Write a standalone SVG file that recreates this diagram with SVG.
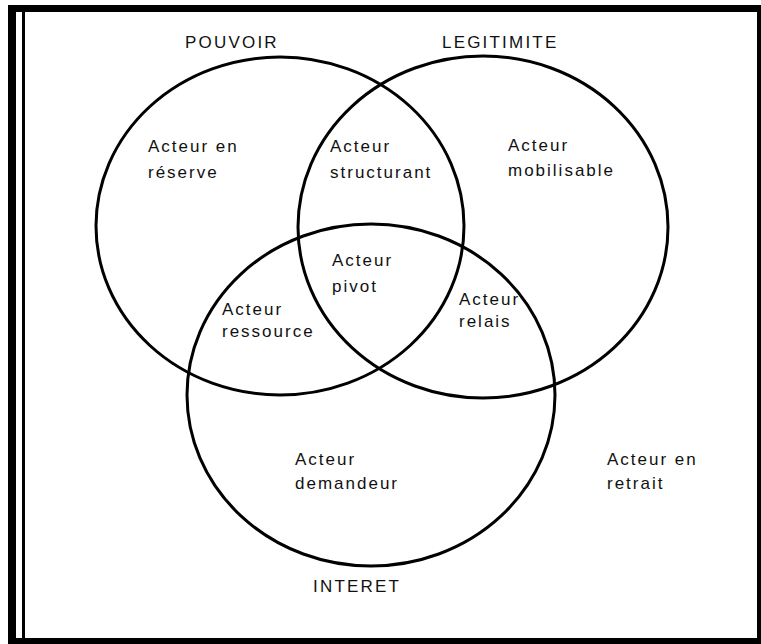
<svg xmlns="http://www.w3.org/2000/svg" width="761" height="644" viewBox="0 0 761 644">
<style>
.frame{fill:#000}
.set{fill:none;stroke:#000;stroke-width:3}
.t{font-family:"Liberation Sans",Arial,sans-serif;font-size:17px;letter-spacing:2px;fill:#111}
.h{font-family:"Liberation Sans",Arial,sans-serif;font-size:17px;letter-spacing:2.2px;fill:#111}
</style>
<rect width="761" height="644" fill="#fff"/>
<g id="frame">
<rect class="frame" x="8" y="5" width="753" height="7"/>
<rect class="frame" x="8" y="5" width="8" height="639"/>
<rect class="frame" x="22" y="12" width="3" height="628"/>
<rect class="frame" x="16" y="638" width="745" height="6"/>
<rect class="frame" x="757" y="5" width="4" height="639"/>
</g>
<g id="pouvoir">
<ellipse class="set" cx="280" cy="226" rx="184" ry="169"/>
<text class="h" x="185" y="48">POUVOIR</text>
</g>
<g id="legitimite">
<ellipse class="set" cx="483" cy="227" rx="185" ry="171"/>
<text class="h" x="442" y="48">LEGITIMITE</text>
</g>
<g id="interet">
<ellipse class="set" cx="371" cy="395" rx="184" ry="171"/>
<text class="h" x="313" y="592">INTERET</text>
</g>
<g id="reserve"><text class="t" x="148" y="152">Acteur en</text><text class="t" x="148" y="178">réserve</text></g>
<g id="structurant"><text class="t" x="330" y="152">Acteur</text><text class="t" x="330" y="178">structurant</text></g>
<g id="mobilisable"><text class="t" x="508" y="151">Acteur</text><text class="t" x="508" y="176">mobilisable</text></g>
<g id="pivot"><text class="t" x="332" y="266">Acteur</text><text class="t" x="332" y="292">pivot</text></g>
<g id="ressource"><text class="t" x="222" y="315">Acteur</text><text class="t" x="222" y="337">ressource</text></g>
<g id="relais"><text class="t" x="459" y="305">Acteur</text><text class="t" x="459" y="327">relais</text></g>
<g id="demandeur"><text class="t" x="295" y="465">Acteur</text><text class="t" x="295" y="489">demandeur</text></g>
<g id="retrait"><text class="t" x="607" y="465">Acteur en</text><text class="t" x="607" y="489">retrait</text></g>
<g id="connectors"></g>
</svg>
